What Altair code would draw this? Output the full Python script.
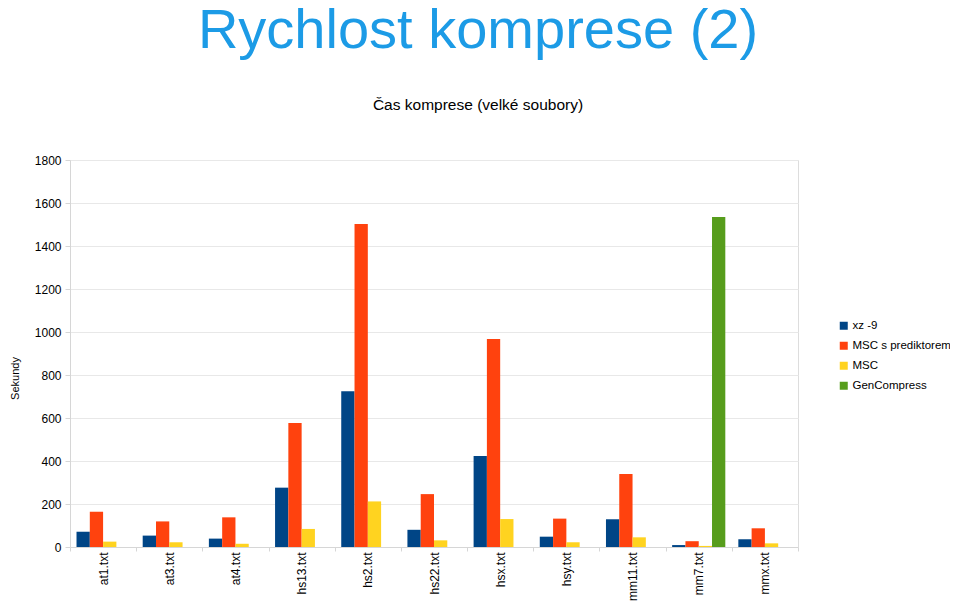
import altair as alt
import pandas as pd

categories = ["at1.txt", "at3.txt", "at4.txt", "hs13.txt", "hs2.txt", "hs22.txt",
              "hsx.txt", "hsy.txt", "mm11.txt", "mm7.txt", "mmx.txt"]
series = ["xz -9", "MSC s prediktorem", "MSC", "GenCompress"]
xz = [71, 53, 39, 276, 725, 80, 423, 48, 129, 9, 36]
msc_pred = [164, 119, 138, 577, 1502, 246, 967, 132, 340, 27, 87]
msc = [25, 22, 15, 84, 212, 31, 130, 22, 45, 5, 17]
gencompress = [None, None, None, None, None, None, None, None, None, 1535, None]
colors = ["#004586", "#ff420e", "#ffd320", "#579d1c"]
y_ticks = [0, 200, 400, 600, 800, 1000, 1200, 1400, 1600, 1800]

rows = []
for s, vals in zip(series, [xz, msc_pred, msc, gencompress]):
    for c, v in zip(categories, vals):
        if v is not None:
            rows.append({"file": c, "series": s, "value": v})
df = pd.DataFrame(rows)

FONT = "Liberation Sans"

chart = alt.Chart(df).mark_bar().encode(
    x=alt.X("file:N", sort=categories,
            scale=alt.Scale(domain=categories, paddingInner=0, paddingOuter=0),
            axis=alt.Axis(title=None, labelAngle=-90, tickBand="extent",
                          labelFontSize=12, labelColor="black", labelFont=FONT,
                          tickSize=4, labelPadding=1,
                          domainColor="#d6d6d6", tickColor="#d6d6d6")),
    xOffset=alt.XOffset("series:N",
                        scale=alt.Scale(domain=series, paddingInner=0, paddingOuter=0.49)),
    y=alt.Y("value:Q", scale=alt.Scale(domain=[0, 1800], nice=False),
            axis=alt.Axis(values=y_ticks, format="d", title="Sekundy", titleFontSize=11,
                          titleFontWeight="normal", titleColor="black", titleFont=FONT,
                          titleAngle=270, titleX=-55, titleY=218,
                          titleAlign="center", titleBaseline="middle",
                          labelFontSize=12, labelColor="black", labelFont=FONT,
                          tickSize=5, labelPadding=4,
                          gridColor="#e8e8e8", domainColor="#d6d6d6", tickColor="#d6d6d6")),
    color=alt.Color("series:N", scale=alt.Scale(domain=series, range=colors),
                    legend=alt.Legend(title=None, orient="none", legendX=768, legendY=160,
                                      symbolType="square", symbolSize=64,
                                      symbolStrokeWidth=0, labelLimit=200,
                                      labelFontSize=11.5, labelFont=FONT, labelColor="black",
                                      rowPadding=7, labelOffset=3)),
).properties(
    width=728,
    height=387,
    title=alt.TitleParams(
        text="Rychlost komprese (2)",
        subtitle="Čas komprese (velké soubory)",
        fontSize=56, font=FONT, fontWeight="normal", color="#1c9be6",
        subtitleFontSize=15.5, subtitleFont=FONT, subtitleColor="black",
        anchor="middle", dx=44, offset=40, subtitlePadding=38,
    ),
    autosize=alt.AutoSizeParams(type="none"),
    padding={"left": 62, "top": 152, "right": 152, "bottom": 54},
).configure_view(stroke="#e8e8e8").configure(background="white")

chart.save("out.html", embed_options={"renderer": "svg", "actions": False})
